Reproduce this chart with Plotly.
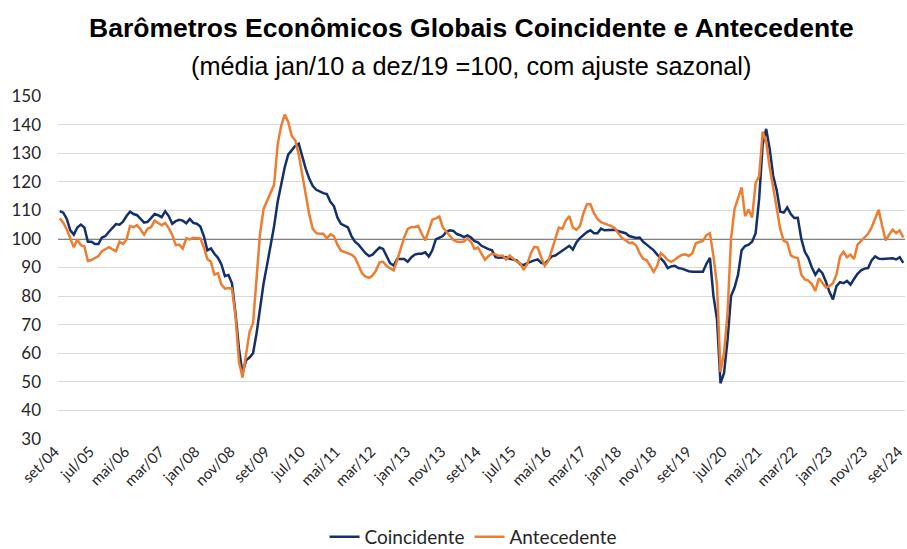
import plotly.graph_objects as go

# ---------------- data (monthly, set/2004 .. set/2024) ----------------
month_names = ["jan", "fev", "mar", "abr", "mai", "jun", "jul", "ago", "set", "out", "nov", "dez"]
categories = []
for k in range(241):
    m = (8 + k) % 12
    y = 2004 + (8 + k) // 12
    categories.append(f"{month_names[m]}/{y % 100:02d}")

tick_labels = ["set/04", "jul/05", "mai/06", "mar/07", "jan/08", "nov/08", "set/09", "jul/10",
               "mai/11", "mar/12", "jan/13", "nov/13", "set/14", "jul/15", "mai/16", "mar/17",
               "jan/18", "nov/18", "set/19", "jul/20", "mai/21", "mar/22", "jan/23", "nov/23", "set/24"]

coincidente = [
    109.7, 109.2, 107.0, 103.0, 101.5, 104.0, 105.0, 104.0, 99.0, 99.0,
    98.2, 98.2, 100.5, 101.0, 102.5, 104.0, 105.2, 105.0, 106.0, 108.0,
    109.5, 108.7, 108.3, 107.0, 105.7, 106.0, 107.4, 108.7, 108.3, 107.6,
    109.7, 108.0, 105.3, 106.2, 106.7, 106.4, 105.5, 107.0, 105.6, 105.3,
    104.3, 101.0, 96.0, 96.7, 94.8, 93.4, 91.1, 87.0, 87.4, 84.5,
    74.0, 61.5, 53.0, 57.5, 58.5, 60.0, 67.0, 75.5, 84.5, 91.0,
    97.5, 104.5, 113.0, 119.0, 125.0, 129.5, 131.0, 132.5, 133.3, 128.5,
    124.5, 121.0, 118.5, 117.2, 116.5, 116.0, 115.7, 113.0, 111.5, 107.5,
    105.3, 104.5, 104.0, 101.0, 99.0, 98.0, 96.5, 95.0, 94.0, 94.5,
    95.8, 97.0, 96.5, 94.0, 91.5, 90.7, 93.0, 93.0, 93.0, 92.0,
    93.5, 94.5, 94.8, 94.8, 95.3, 93.8, 96.0, 99.8, 100.3, 101.0,
    102.5, 103.0, 102.8, 101.7, 101.3, 100.6, 101.2, 100.5, 99.2, 98.8,
    97.6, 96.9, 96.4, 96.0, 93.6, 93.4, 93.4, 93.6, 93.0, 92.7,
    92.5, 91.2, 90.8, 91.5, 92.1, 92.5, 92.8, 91.6, 91.3, 92.5,
    93.9, 94.2, 95.0, 95.8, 96.6, 97.6, 96.3, 98.8, 100.3, 101.5,
    102.4, 103.0, 102.0, 102.0, 103.6, 103.0, 103.0, 103.2, 103.2, 102.7,
    102.4, 102.0, 101.0, 100.7, 100.3, 100.5, 99.0, 98.0, 97.0, 96.0,
    94.5, 93.0, 91.9, 89.8, 90.4, 90.6, 89.8, 89.6, 89.1, 88.7,
    88.5, 88.5, 88.5, 88.5, 91.3, 93.4, 80.0, 72.0, 49.5, 53.0,
    64.5, 80.0, 83.0, 87.5, 96.0, 97.5, 98.0, 99.0, 102.0, 114.0,
    133.0, 138.5, 131.5, 122.0, 117.0, 109.5, 109.2, 111.0, 108.7, 107.3,
    107.4, 100.0, 95.5, 93.4, 90.0, 87.5, 89.3, 88.0, 85.0, 81.5,
    78.8, 83.5, 84.9, 84.5, 85.3, 84.0, 86.0, 87.8, 89.0, 89.6,
    89.8, 92.5, 93.9, 93.1, 93.0, 93.1, 93.0, 93.2, 92.8, 93.6,
    91.6,
]

antecedente = [
    107.2, 105.7, 103.3, 100.2, 97.1, 99.8, 97.8, 97.4, 92.3, 92.6,
    93.2, 94.0, 95.7, 96.3, 97.1, 96.3, 95.7, 99.0, 98.2, 99.8,
    104.5, 104.1, 104.8, 103.3, 101.5, 103.6, 104.1, 106.4, 105.6, 104.8,
    105.6, 103.8, 101.5, 97.8, 98.0, 96.6, 100.2, 99.8, 100.4, 100.2,
    100.2, 97.0, 93.0, 92.0, 87.5, 88.0, 84.0, 82.6, 82.8, 82.6,
    73.0, 57.0, 51.5, 59.5, 67.5, 70.5, 85.0, 102.0, 110.5, 113.5,
    116.4, 119.0, 133.0, 139.5, 143.5, 141.0, 136.0, 134.5, 129.5, 122.5,
    115.0, 108.5, 103.5, 102.0, 101.8, 101.8, 100.2, 101.6, 101.0, 98.0,
    95.9, 95.5, 95.0, 94.5, 93.5, 91.0, 88.0, 86.8, 86.4, 87.2,
    89.0, 91.8, 92.0, 90.5, 89.6, 89.0, 92.5, 96.5, 100.5, 103.5,
    104.1, 104.2, 104.5, 101.8, 99.5, 103.0, 106.7, 107.2, 107.8, 104.0,
    102.6, 100.8, 99.6, 99.0, 98.9, 99.1, 100.2, 99.0, 96.5, 97.0,
    95.0, 92.7, 94.0, 94.8, 94.6, 94.0, 94.2, 92.8, 94.2, 93.0,
    92.0, 91.5, 89.2, 91.2, 94.8, 97.2, 97.0, 93.5, 90.6, 92.2,
    96.5, 100.0, 104.0, 103.6, 106.4, 108.0, 104.0, 103.2, 104.5, 109.0,
    112.1, 112.1, 109.0, 107.0, 105.9, 105.3, 104.9, 104.5, 103.7, 101.8,
    100.3, 99.5, 98.6, 98.7, 97.7, 95.0, 93.0, 92.6, 90.7, 88.5,
    90.6, 95.0, 94.0, 92.6, 92.0, 92.7, 93.7, 94.4, 94.6, 94.0,
    95.0, 98.5, 98.9, 99.3, 101.3, 102.0, 94.0, 84.0, 53.5, 60.0,
    74.0, 100.0, 110.5, 114.5, 118.0, 108.0, 110.3, 107.5, 119.5, 122.0,
    137.5, 134.0, 125.0, 118.0, 110.5, 103.5, 99.3, 98.8, 94.2, 93.6,
    93.3, 87.5, 85.8, 85.4, 84.2, 81.8, 86.2, 84.6, 83.0, 83.5,
    84.5, 87.5, 93.8, 95.5, 93.6, 94.5, 93.0, 98.0, 99.3, 100.8,
    101.8, 104.0, 107.5, 110.2, 104.5, 99.5, 101.5, 103.2, 102.0, 103.0,
    100.5,
]

reference_level = 100
y_ticks = [30, 40, 50, 60, 70, 80, 90, 100, 110, 120, 130, 140, 150]

assert len(categories) == len(coincidente) == len(antecedente) == 241

# ---------------- figure ----------------
NAVY = "#13306B"
ORANGE = "#ED7D31"
SANS = "Lato, 'Liberation Sans', sans-serif"
ARIAL = "'Liberation Sans', Arial, sans-serif"

fig = go.Figure()
fig.add_trace(go.Scatter(x=categories, y=coincidente, mode="lines", name="Coincidente",
                         line=dict(color=NAVY, width=2.5)))
fig.add_trace(go.Scatter(x=categories, y=antecedente, mode="lines", name="Antecedente",
                         line=dict(color=ORANGE, width=2.5)))

fig.add_shape(type="line", xref="paper", yref="y", x0=0, x1=1,
              y0=reference_level, y1=reference_level,
              line=dict(color="#595959", width=1.5), layer="between")

fig.update_xaxes(type="category", tickmode="array", tickvals=tick_labels, ticktext=tick_labels,
                 tickangle=-45, tickfont=dict(family=SANS, size=15, color="#262626"),
                 showgrid=False, showline=False, ticks="", range=[-0.5, 240.5],
                 zeroline=False, ticklabelshift=-5, automargin=False)
fig.update_yaxes(range=[30, 150], tickvals=y_ticks,
                 tickfont=dict(family=SANS, size=17, color="#262626"),
                 showgrid=True, gridcolor="#D9D9D9", gridwidth=1, zeroline=False,
                 showline=False, ticks="", ticklabelstandoff=16, automargin=False)

fig.add_annotation(text="<b>Barômetros Econômicos Globais Coincidente e Antecedente</b>",
                   xref="paper", yref="paper", x=0.488, y=1.198, showarrow=False,
                   xanchor="center", yanchor="middle",
                   font=dict(family=ARIAL, size=26.5, color="#000000"))
fig.add_annotation(text="(média jan/10 a dez/19 =100, com ajuste sazonal)",
                   xref="paper", yref="paper", x=0.488, y=1.087, showarrow=False,
                   xanchor="center", yanchor="middle",
                   font=dict(family=ARIAL, size=25.3, color="#000000"))

fig.update_layout(
    width=907, height=549,
    margin=dict(l=58, r=2, t=96, b=110),
    plot_bgcolor="white", paper_bgcolor="white",
    showlegend=True,
    legend=dict(orientation="h", xref="paper", yref="container",
                x=0.49, y=0.022, xanchor="center", yanchor="middle",
                font=dict(family=SANS, size=19, color="#262626"),
                itemwidth=30, tracegroupgap=0),
)

fig.write_html("out.html", config={"displayModeBar": False},
               post_script="document.body.style.margin='0';")
